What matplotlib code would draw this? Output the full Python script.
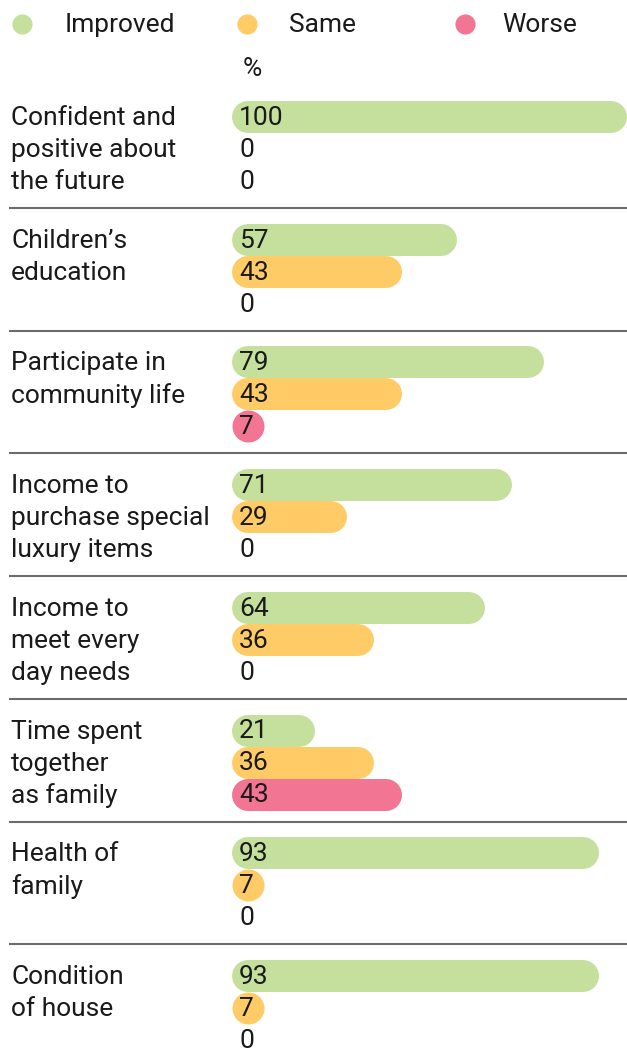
import matplotlib.pyplot as plt

# Survey results: share of respondents per outcome (%)
categories = [
    "Confident and\npositive about\nthe future",
    "Children\u2019s\neducation",
    "Participate in\ncommunity life",
    "Income to\npurchase special\nluxury items",
    "Income to\nmeet every\nday needs",
    "Time spent\ntogether\nas family",
    "Health of\nfamily",
    "Condition\nof house",
]
improved = [100, 57, 79, 71, 64, 21, 93, 93]
same = [0, 43, 43, 29, 36, 36, 7, 7]
worse = [0, 0, 7, 0, 0, 43, 0, 0]

series = ["Improved", "Same", "Worse"]
colors = ["#c5e09d", "#ffcb67", "#f27593"]

W, H = 627, 1063
X0 = 232          # pixel where 0 % sits
PX_PER_PCT = 3.95  # pixels per percent
BAR_PX = 32
GROUP_STEP = 122.7
FIRST_ROW = 117

font = dict(family="Roboto", fontweight="normal", fontsize=19, color="#1a1a1a")

fig = plt.figure(figsize=(W / 100, H / 100), dpi=100)
ax = fig.add_axes([0, 0, 1, 1])
ax.set_xlim(-X0 / PX_PER_PCT, (W - X0) / PX_PER_PCT)
ax.set_ylim(H, 0)
ax.axis("off")


def px(x):
    return (x - X0) / PX_PER_PCT


lw = BAR_PX * 72 / 100
r = (BAR_PX / 2) / PX_PER_PCT

# legend row
for name, c, dot_x, txt_x in zip(series, colors, [22, 247, 465], [65, 289, 502]):
    ax.plot(px(dot_x), 24, "o", ms=14.5, color=c, mec="none")
    ax.text(px(txt_x), 25, name, va="center", ha="left", **font)
ax.text(px(243), 69, "%", va="center", ha="left", **font)

for i, cat in enumerate(categories):
    top = FIRST_ROW + GROUP_STEP * i
    rows = [top, top + 32, top + 64]
    for j, line in enumerate(cat.split("\n")):
        ax.text(px(11), rows[j] + 1, line, va="center", ha="left", **font)
    for y, vals, c in zip(rows, [improved, same, worse], colors):
        v = vals[i]
        if v > 0:
            x_end = max(v - r, r)
            if x_end > r:
                ax.plot([r, x_end], [y, y], color=c, lw=lw,
                        solid_capstyle="round")
            else:
                ax.plot(r, y, "o", ms=lw, color=c, mec="none")
        ax.text(px(239), y + 1, str(v), va="center", ha="left", **font)
    if i < len(categories) - 1:
        ax.plot([px(10), px(W)], [top + 91, top + 91], color="#6b6b6b", lw=1.5)

fig.savefig("out.png", dpi=100)
